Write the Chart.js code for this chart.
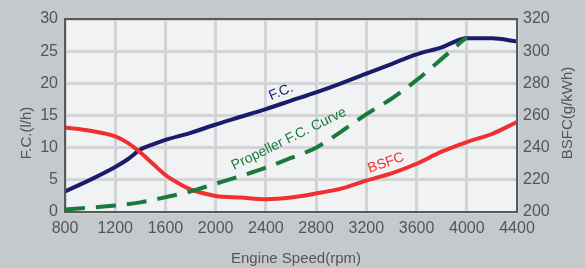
<!DOCTYPE html>
<html>
<head>
<meta charset="utf-8">
<script src="https://cdn.jsdelivr.net/npm/chart.js@4.4.1/dist/chart.umd.min.js"></script>
<style>
  html, body { margin: 0; padding: 0; background: #c6c9cc; }
  #wrap { width: 585px; height: 268px; position: relative; }
</style>
</head>
<body>
<div id="wrap"><canvas id="chart" width="585" height="268"></canvas></div>
<script>
// engine speed ticks
const speedTicks = [800, 1200, 1600, 2000, 2400, 2800, 3200, 3600, 4000, 4400];

// F.C. curve (l/h)
const fcSpeed = [800, 1000, 1200, 1300, 1400, 1500, 1600, 1800, 2000, 2200, 2400, 2600, 2800, 3000, 3200, 3400, 3600, 3800, 4000, 4200, 4400];
const fcValues = [3.2, 5.0, 7.0, 8.2, 9.7, 10.5, 11.2, 12.3, 13.6, 14.8, 16.0, 17.3, 18.6, 20.0, 21.5, 23.0, 24.5, 25.6, 27.0, 27.0, 26.5];

// BSFC curve (g/kWh)
const bsfcSpeed = [800, 1000, 1200, 1300, 1400, 1500, 1600, 1700, 1800, 2000, 2200, 2400, 2600, 2800, 3000, 3200, 3400, 3600, 3800, 4000, 4200, 4400];
const bsfcValues = [252.5, 250.5, 247, 243, 237, 230, 223, 218, 214, 210, 209, 208, 209, 211.5, 214.5, 219.5, 224, 230, 237.5, 243.5, 248.5, 256];

// propeller F.C. curve (l/h)
const propSpeed = [800, 1200, 1400, 1600, 1800, 2000, 2200, 2400, 2600, 2800, 3000, 3200, 3400, 3600, 3800, 4000];
const propValues = [0.4, 1.0, 1.5, 2.3, 3.2, 4.4, 5.6, 6.9, 8.4, 10.0, 12.5, 15.2, 17.6, 20.5, 23.8, 27.2];

const pts = (xs, ys) => xs.map((x, i) => ({ x: x, y: ys[i] }));

const tickFont = { family: 'Liberation Sans, Arial, sans-serif', size: 16 };
const gridColor = '#d3d4d6';

// background, frame, axis titles and curve labels
const decor = {
  id: 'decor',
  beforeDraw(chart) {
    const { ctx, chartArea: a } = chart;
    ctx.save();
    ctx.fillStyle = '#c6c9cc';
    ctx.fillRect(0, 0, chart.width, chart.height);
    ctx.fillStyle = '#f1f2f4';
    ctx.fillRect(a.left, a.top, a.right - a.left, a.bottom - a.top);
    ctx.restore();
  },
  afterDraw(chart) {
    const { ctx, chartArea: a } = chart;
    ctx.save();
    ctx.strokeStyle = '#58595b';
    ctx.lineWidth = 2;
    ctx.strokeRect(a.left, a.top, a.right - a.left, a.bottom - a.top);

    const text = (s, x, y, rot, color, size) => {
      ctx.save();
      ctx.translate(x, y);
      ctx.rotate(rot * Math.PI / 180);
      ctx.fillStyle = color;
      ctx.font = size + 'px Liberation Sans, Arial, sans-serif';
      ctx.textAlign = 'center';
      ctx.textBaseline = 'middle';
      ctx.fillText(s, 0, 0);
      ctx.restore();
    };
    text('F.C.(l/h)', 27, 133, -90, '#555', 15);
    text('BSFC(g/kWh)', 568, 113, -90, '#555', 15);
    text('Engine Speed(rpm)', 296, 259, 0, '#555', 15);

    text('F.C.', 281, 92, -22, '#1b1b6b', 14);
    text('Propeller F.C. Curve', 289, 139, -26, '#1a7a3c', 14);
    text('BSFC', 386, 163, -19, '#f03030', 14);
    ctx.restore();
  }
};

new Chart(document.getElementById('chart'), {
  type: 'line',
  data: {
    datasets: [
      {
        label: 'Propeller F.C. Curve',
        data: pts(propSpeed, propValues),
        yAxisID: 'y',
        borderColor: '#1a7a3c',
        borderWidth: 4,
        borderDash: [20, 11],
        pointRadius: 0,
        cubicInterpolationMode: 'monotone'
      },
      {
        label: 'BSFC',
        data: pts(bsfcSpeed, bsfcValues),
        yAxisID: 'y1',
        borderColor: '#f03030',
        borderWidth: 4,
        pointRadius: 0,
        cubicInterpolationMode: 'monotone'
      },
      {
        label: 'F.C.',
        data: pts(fcSpeed, fcValues),
        yAxisID: 'y',
        borderColor: '#1b1b6b',
        borderWidth: 4,
        pointRadius: 0,
        cubicInterpolationMode: 'monotone'
      }
    ]
  },
  options: {
    responsive: false,
    animation: false,
    layout: { padding: { top: 19, left: 0, right: 0, bottom: 0 } },
    plugins: { legend: { display: false }, tooltip: { enabled: false } },
    scales: {
      x: {
        type: 'linear',
        min: 800,
        max: 4400,
        afterBuildTicks: s => { s.ticks = speedTicks.map(v => ({ value: v })); },
        ticks: { font: tickFont, color: '#555', padding: 7, maxRotation: 0, callback: v => String(v) },
        grid: { color: gridColor, lineWidth: 3, drawTicks: false },
        border: { display: false },
        afterFit: s => { s.height = 56; }
      },
      y: {
        position: 'left',
        min: 0,
        max: 30,
        ticks: { stepSize: 5, font: tickFont, color: '#555', padding: 7 },
        grid: { color: gridColor, lineWidth: 3, drawTicks: false },
        border: { display: false },
        afterFit: s => { s.width = 65; }
      },
      y1: {
        position: 'right',
        min: 200,
        max: 320,
        ticks: { stepSize: 20, font: tickFont, color: '#555', padding: 6 },
        grid: { display: false, drawTicks: false },
        border: { display: false },
        afterFit: s => { s.width = 68; }
      }
    }
  },
  plugins: [decor]
});
</script>
</body>
</html>
